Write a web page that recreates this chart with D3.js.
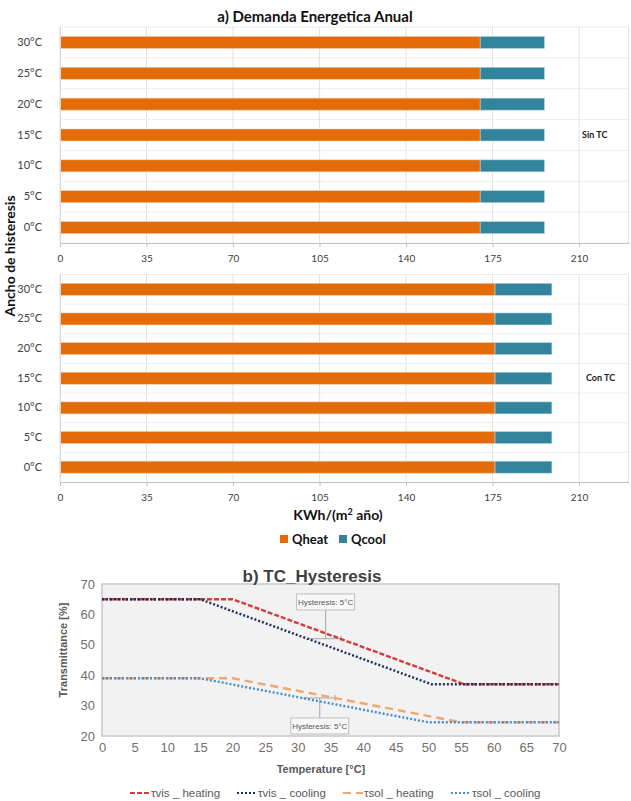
<!DOCTYPE html>
<html>
<head>
<meta charset="utf-8">
<script src="https://cdn.jsdelivr.net/npm/d3@7"></script>
<style>
  body { margin: 0; background: #fff; }
  svg { display: block; }
</style>
</head>
<body>
<div id="hook-chart"></div>
<script>
'use strict';

// panel a) data
var categories = ['0°C', '5°C', '10°C', '15°C', '20°C', '25°C', '30°C'];
var qheatSin = [170, 170, 170, 170, 170, 170, 170];
var qcoolSin = [26, 26, 26, 26, 26, 26, 26];
var qheatCon = [176, 176, 176, 176, 176, 176, 176];
var qcoolCon = [23, 23, 23, 23, 23, 23, 23];
var xTicksA = [0, 35, 70, 105, 140, 175, 210];

// panel b) data  [temperature, transmittance]
var tvisHeating = [[0, 65], [20, 65], [55.5, 37], [70, 37]];
var tvisCooling = [[0, 65], [15, 65], [50.5, 37], [70, 37]];
var tsolHeating = [[0, 39], [20, 39], [55, 24.5], [70, 24.5]];
var tsolCooling = [[0, 39], [15, 39], [50, 24.5], [70, 24.5]];
var xTicksB = [0, 5, 10, 15, 20, 25, 30, 35, 40, 45, 50, 55, 60, 65, 70];
var yTicksB = [20, 30, 40, 50, 60, 70];
var hystNotes = [
  { text: 'Hysteresis: 5°C', y: 52, x1: 31.6, x2: 36.6, labelY: 64.1 },
  { text: 'Hysteresis: 5°C', y: 32.5, x1: 30.7, x2: 35.7, labelY: 23.3 }
];

var W = 631, H = 801;
var cHeat = '#E36C09', cCool = '#31849B';
var fontA = 'Lato, "Open Sans", sans-serif';
var fontB = '"Liberation Sans", Arial, sans-serif';

var svg = d3.select('#hook-chart').append('svg')
  .attr('width', W).attr('height', H);

// ---------- panel a ----------
var x = d3.scaleLinear().domain([0, 230]).range([60, 628.5]);

function barPanel(top, bottom, heat, cool, note) {
  var y = d3.scaleBand().domain(categories.slice().reverse()).range([top, bottom]);
  var g = svg.append('g');

  // vertical grid
  g.selectAll('.vg').data(xTicksA.concat([230])).enter().append('line')
    .attr('x1', function(d) { return x(d); }).attr('x2', function(d) { return x(d); })
    .attr('y1', top).attr('y2', bottom)
    .style('stroke', '#e3e3e3').style('stroke-width', 1);

  // horizontal dotted separators
  g.selectAll('.hg').data(categories).enter().append('line')
    .attr('x1', x(0)).attr('x2', x(230))
    .attr('y1', function(d) { return y(d); }).attr('y2', function(d) { return y(d); })
    .style('stroke', '#dcdcdc').style('stroke-dasharray', '1,1');

  var bh = 12;
  g.selectAll('.heat').data(categories).enter().append('rect')
    .attr('x', x(0))
    .attr('y', function(d) { return y(d) + y.bandwidth() / 2 - bh / 2; })
    .attr('width', function(d, i) { return x(heat[i]) - x(0); })
    .attr('height', bh)
    .style('fill', cHeat).style('stroke', '#f4c9a8').style('stroke-width', 0.6);

  g.selectAll('.cool').data(categories).enter().append('rect')
    .attr('x', function(d, i) { return x(heat[i]); })
    .attr('y', function(d) { return y(d) + y.bandwidth() / 2 - bh / 2; })
    .attr('width', function(d, i) { return x(heat[i] + cool[i]) - x(heat[i]); })
    .attr('height', bh)
    .style('fill', cCool).style('stroke', '#b7d7e0').style('stroke-width', 0.6);

  // axes
  var xa = g.append('g').attr('transform', 'translate(0,' + bottom + ')')
    .call(d3.axisBottom(x).tickValues(xTicksA).tickSize(4).tickSizeOuter(0).tickPadding(8));
  xa.select('.domain').style('stroke', '#bfbfbf');
  xa.selectAll('.tick line').style('stroke', '#bfbfbf');
  xa.selectAll('text').style('font-family', fontA).style('font-size', '10px').style('fill', '#404040');

  var ya = g.append('g').attr('transform', 'translate(' + x(0) + ',0)')
    .call(d3.axisLeft(y).tickSize(0).tickPadding(18));
  ya.select('.domain').style('stroke', '#d9d9d9');
  ya.selectAll('text').style('font-family', fontA).style('font-size', '11px').style('fill', '#404040');

  g.append('text').attr('x', note.x).attr('y', y('15°C') + y.bandwidth() / 2 + 3)
    .text(note.t)
    .style('font-family', fontA).style('font-size', '9px').style('font-weight', 'bold')
    .style('fill', '#222');
}

barPanel(27, 243, qheatSin, qcoolSin, { t: 'Sin TC', x: 582 });
barPanel(274.5, 482, qheatCon, qcoolCon, { t: 'Con TC', x: 586 });

svg.append('text').attr('x', 315).attr('y', 22).attr('text-anchor', 'middle')
  .text('a) Demanda Energetica Anual')
  .style('font-family', fontA).style('font-size', '15px').style('font-weight', 'bold').style('fill', '#111');

svg.append('text').attr('transform', 'translate(15,256) rotate(-90)').attr('text-anchor', 'middle')
  .text('Ancho de histeresis')
  .style('font-family', fontA).style('font-size', '14px').style('font-weight', 'bold').style('fill', '#111');

var xt = svg.append('text').attr('x', 338).attr('y', 520).attr('text-anchor', 'middle')
  .style('font-family', fontA).style('font-size', '14px').style('font-weight', 'bold').style('fill', '#111');
xt.append('tspan').text('KWh/(m');
xt.append('tspan').text('2').attr('dy', -5).style('font-size', '9px');
xt.append('tspan').text(' año)').attr('dy', 5);

var legA = [{ n: 'Qheat', c: cHeat, x: 280 }, { n: 'Qcool', c: cCool, x: 339 }];
var la = svg.selectAll('.lega').data(legA).enter().append('g')
  .attr('transform', function(d) { return 'translate(' + d.x + ',539)'; });
la.append('rect').attr('x', 0).attr('y', -4).attr('width', 8).attr('height', 8).style('fill', function(d) { return d.c; });
la.append('text').attr('x', 12).attr('y', 4.5).text(function(d) { return d.n; })
  .style('font-family', fontA).style('font-size', '13px').style('font-weight', 'bold').style('fill', '#111');

// ---------- panel b ----------
var xb = d3.scaleLinear().domain([0, 70]).range([102, 559]);
var yb = d3.scaleLinear().domain([20, 70]).range([736, 584]);

svg.append('rect').attr('x', xb(0)).attr('y', yb(70))
  .attr('width', xb(70) - xb(0)).attr('height', yb(20) - yb(70))
  .style('fill', '#f2f2f2').style('stroke', '#c8c8c8').style('stroke-width', 1.5);

var xba = svg.append('g').attr('transform', 'translate(0,' + yb(20) + ')')
  .call(d3.axisBottom(xb).tickValues(xTicksB).tickSize(0).tickPadding(7));
xba.select('.domain').remove();
xba.selectAll('text').style('font-family', fontB).style('font-size', '13px').style('fill', '#6f6f6f');

var yba = svg.append('g').attr('transform', 'translate(' + xb(0) + ',0)')
  .call(d3.axisLeft(yb).tickValues(yTicksB).tickSize(0).tickPadding(7));
yba.select('.domain').remove();
yba.selectAll('text').style('font-family', fontB).style('font-size', '13px').style('fill', '#6f6f6f');

svg.append('text').attr('x', 312).attr('y', 582).attr('text-anchor', 'middle')
  .text('b) TC_Hysteresis')
  .style('font-family', fontB).style('font-size', '17px').style('font-weight', 'bold').style('fill', '#404040');
svg.append('text').attr('x', 321).attr('y', 773).attr('text-anchor', 'middle')
  .text('Temperature [°C]')
  .style('font-family', fontB).style('font-size', '11px').style('font-weight', 'bold').style('fill', '#595959');
svg.append('text').attr('transform', 'translate(67,650) rotate(-90)').attr('text-anchor', 'middle')
  .text('Transmittance [%]')
  .style('font-family', fontB).style('font-size', '11px').style('font-weight', 'bold').style('fill', '#595959');

// annotations
hystNotes.forEach(function(n) {
  var cx = (xb(n.x1) + xb(n.x2)) / 2 + 1;
  var ly = yb(n.labelY);
  var g = svg.append('g');
  g.append('line').attr('x1', xb(n.x1)).attr('x2', xb(n.x2)).attr('y1', yb(n.y)).attr('y2', yb(n.y))
    .style('stroke', '#a6a6a6');
  g.append('line').attr('x1', cx).attr('x2', cx).attr('y1', yb(n.y)).attr('y2', ly + (n.labelY > n.y ? 8 : -8))
    .style('stroke', '#a6a6a6');
  g.append('line').attr('x1', xb(n.x2)).attr('x2', xb(n.x2)).attr('y1', yb(n.y) - 3).attr('y2', yb(n.y) + 3)
    .style('stroke', '#a6a6a6');
  g.append('rect').attr('x', cx - 29).attr('y', ly - 8).attr('width', 58).attr('height', 16)
    .style('fill', '#f7f7f7').style('stroke', '#bfbfbf');
  g.append('text').attr('x', cx).attr('y', ly + 3).attr('text-anchor', 'middle').text(n.text)
    .style('font-family', fontB).style('font-size', '8px').style('fill', '#595959');
});

var series = [
  { name: 'τvis _ heating', d: tvisHeating, c: '#D23C3C', dash: '5,2', w: 2.4, lx: 130 },
  { name: 'τvis _ cooling', d: tvisCooling, c: '#1F2F5C', dash: '2,2', w: 2.4, lx: 237 },
  { name: 'τsol _ heating', d: tsolHeating, c: '#F2A66E', dash: '8,5', w: 2.4, lx: 343 },
  { name: 'τsol _ cooling', d: tsolCooling, c: '#4A8DCC', dash: '2,2', w: 2.4, lx: 451 }
];
var line = d3.line().x(function(d) { return xb(d[0]); }).y(function(d) { return yb(d[1]); });
// heating first, cooling on top
[series[2], series[0], series[3], series[1]].forEach(function(s) {
  svg.append('path').attr('d', line(s.d))
    .style('fill', 'none').style('stroke', s.c).style('stroke-width', s.w)
    .style('stroke-dasharray', s.dash);
});

var lb = svg.selectAll('.legb').data(series).enter().append('g')
  .attr('transform', function(d) { return 'translate(' + d.lx + ',793)'; });
lb.append('line').attr('x1', 0).attr('x2', 20).attr('y1', 0).attr('y2', 0)
  .style('stroke', function(d) { return d.c; }).style('stroke-width', 2)
  .style('stroke-dasharray', function(d) { return d.dash; });
lb.append('text').attr('x', 21).attr('y', 4).text(function(d) { return d.name; })
  .style('font-family', fontB).style('font-size', '11.5px').style('fill', '#595959');
</script>
</body>
</html>
